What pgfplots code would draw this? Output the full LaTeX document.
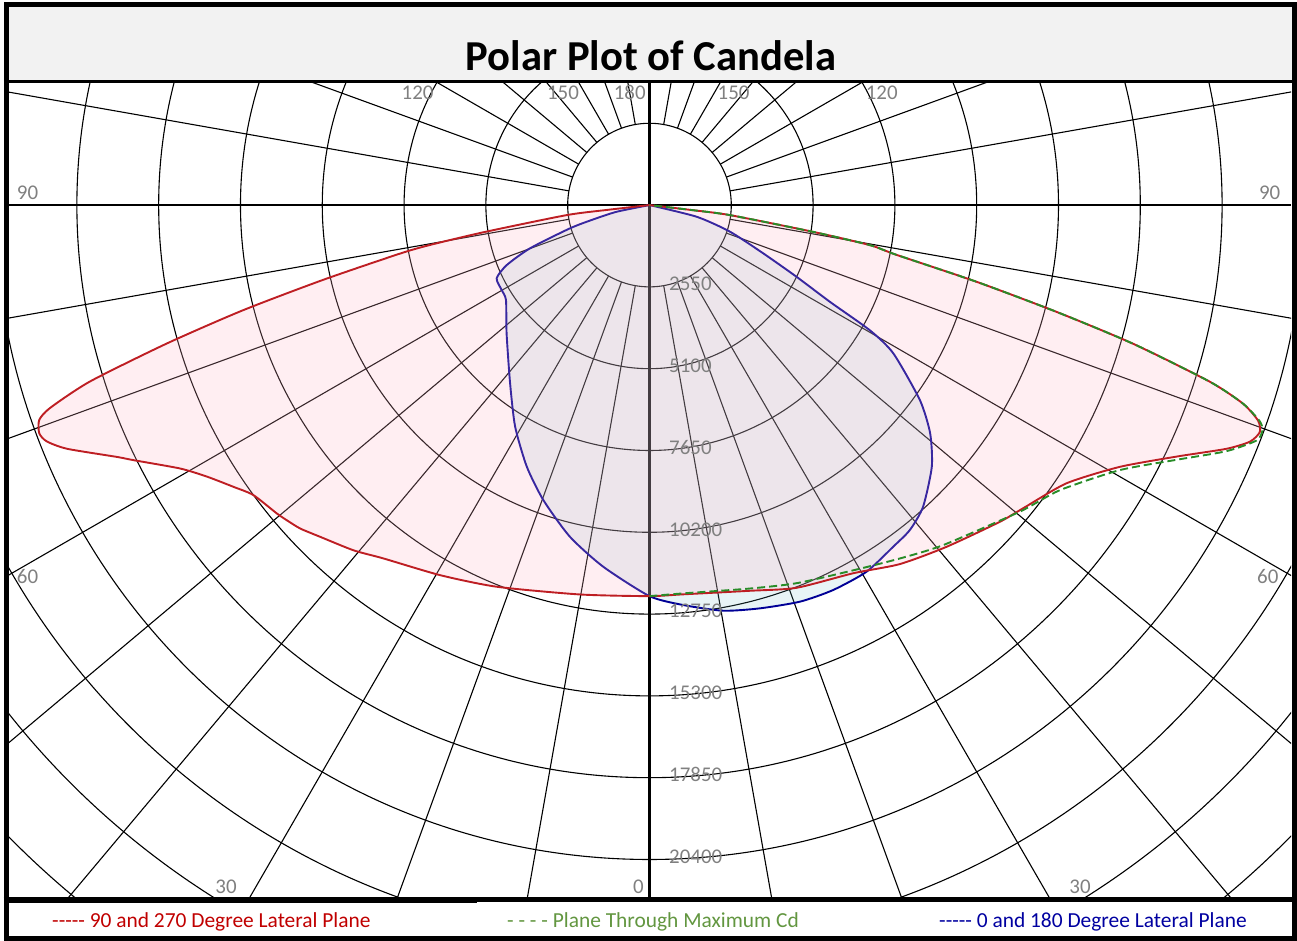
\documentclass[border=0pt]{standalone}
\usepackage{fontspec}
\setmainfont{Carlito}
\usepackage{pgfplots}
\pgfplotsset{compat=1.18}
\usepackage{pgfplotstable}

\definecolor{redline}{RGB}{190,30,35}
\definecolor{redfill}{RGB}{255,178,196}
\definecolor{blueline}{RGB}{0,0,150}
\definecolor{bluefill}{RGB}{102,182,195}
\definecolor{greenline}{RGB}{40,140,40}
\definecolor{labgray}{RGB}{128,128,128}
\definecolor{titlebg}{RGB}{242,242,242}
\definecolor{legred}{RGB}{192,0,0}
\definecolor{leggreen}{RGB}{98,150,64}
\definecolor{legblue}{RGB}{0,0,160}

% a = vertical angle from nadir (negative: 270 / 180 plane side, positive: 90 / 0 plane side), cd = candela
\pgfplotstableread{
a cd
-90 0
-83.5 1300
-83.1 2600
-80.7 5250
-79.7 6955
-79.0 7920
-77.1 10430
-75.5 13080
-74.0 15650
-72.5 18290
-71.3 19730
-70.6 20170
-69.5 20310
-68.6 20185
-67.3 19685
-64.7 18370
-63.7 17946
-60.7 16780
-58.5 16193
-55.9 15665
-53.8 15305
-50.4 15080
-49.0 14977
-47.2 14840
-44.8 14573
-40.6 14175
-37.0 13790
-29.5 13255
-21.8 12815
-10.1 12330
0 12190
5.0 12180
14.6 12425
21.0 12780
29.0 13120
34.9 13645
41.0 14115
47.9 14725
51.0 15005
56.3 15630
60.9 16780
64.5 18210
67.1 19525
68.5 20120
69.6 20300
70.5 20125
71.5 19513
72.5 18320
74.0 15685
75.3 13120
76.8 10475
78.6 7860
79.7 6985
80.7 5174
82.9 2530
83.3 1300
90 0
}\redtab

\pgfplotstableread{
a cd
0 12190
5.0 12150
14.5 12350
21.3 12650
29.5 13060
35.3 13500
40.8 14005
50.4 14990
55.2 15575
60.6 16830
64.2 18245
66.9 19553
68.8 20295
69.8 20360
70.5 20180
71.5 19513
72.5 18320
74.0 15685
75.3 13120
76.8 10475
78.6 7860
79.7 6985
80.7 5174
82.9 2530
83.3 1300
90 0
}\greentab

\pgfplotstableread{
a cd
-90 0
-78.5 1044
-75.7 1808
-73.7 2582
-70.1 3962
-67.2 4828
-64.4 5283
-60.1 5314
-56.5 5365
-48.1 5985
-38.0 7057
-31.2 8083
-25.1 9011
-19.8 9772
-13.5 10632
-7.3 11365
0 12190
4.8 12511
10.3 12853
15.3 13034
20.8 13224
25.5 13296
30.6 13283
35.5 13083
38.7 12981
42.2 12697
47.2 11996
50.9 11273
54.2 10394
58.7 8895
60.4 7900
61.8 6383
64.0 5104
67.0 3854
71.7 2644
76.1 1516
90 0
}\bluetab

\begin{document}
\begin{tikzpicture}[x=1bp,y=1bp]
\begin{axis}[name=ax, scale only axis,
  width=1283.2bp, height=814.8bp,
  xmin=-20000, xmax=20000, ymin=-21600, ymax=3800,
  axis line style={draw=none}, ticks=none, clip=true,
  every axis plot/.append style={smooth, tension=0.4, line join=round}]
% polar grid (rings every 2550 cd = 81.8bp, spokes every 10 degrees)
\pgfplotsinvokeforeach{1,...,11}{\draw[line width=1.1bp] (axis cs:0,0) circle[radius=#1*81.8bp];}
\pgfplotsinvokeforeach{10,20,...,80,100,110,...,170,190,200,...,260,280,290,...,350}{%
  \draw[line width=1.1bp] (axis cs:0,0) ++(#1:81.8bp) -- ++(#1:1250bp);}
\draw[line width=2.2bp] (axis cs:-20000,0) -- (axis cs:20000,0);
\draw[line width=2.6bp] (axis cs:0,-21600) -- (axis cs:0,3800);
% data
\addplot[data cs=polar, draw=blueline, line width=1.9bp, fill=bluefill, fill opacity=0.15]
  table[x expr=\thisrow{a}+270, y=cd]{\bluetab};
\addplot[data cs=polar, draw=redline, line width=1.9bp, fill=redfill, fill opacity=0.22]
  table[x expr=\thisrow{a}+270, y=cd]{\redtab};
\addplot[data cs=polar, draw=greenline, line width=1.9bp, dash pattern=on 8bp off 4bp]
  table[x expr=\thisrow{a}+270, y=cd]{\greentab};
\end{axis}

\begin{scope}[shift={(ax.south west)}, xshift=-7.9bp, yshift=-43bp]
\fill[titlebg] (6,858) rectangle (1292,936);

% labels
\begin{scope}[every node/.style={font=\fontsize{21}{25}\selectfont, text=labgray, inner sep=0pt}]
\foreach \k/\v in {1/2550,2/5100,3/7650,4/10200,5/12750,6/15300,7/17850,8/20400}
  \node[anchor=base west] at (669,{732-81.8*\k}) {\v};
\node[anchor=base] at (27.5,741) {90};
\node[anchor=base] at (1269.7,741) {90};
\node[anchor=base] at (417.6,841.7) {120};
\node[anchor=base] at (563,841.7) {150};
\node[anchor=base] at (629.7,841.7) {180};
\node[anchor=base] at (733.6,841.7) {150};
\node[anchor=base] at (881.7,841.7) {120};
\node[anchor=base] at (27.5,357) {60};
\node[anchor=base] at (1267.8,357) {60};
\node[anchor=base] at (226,47.7) {30};
\node[anchor=base] at (1080,47.7) {30};
\node[anchor=base] at (638.4,47.7) {0};
\end{scope}

% title
\node[anchor=base, font=\fontsize{42.8}{50}\selectfont\bfseries, inner sep=0pt] at (651,870) {Polar Plot of Candela};

% frame
\draw[line width=3bp] (4,859.5) -- (1293,859.5);
\draw[line width=4.5bp] (4,41.5) -- (1293,41.5);
\draw[line width=6bp] (4,40.5) -- (477,40.5);
\draw[line width=5bp] (6.5,2.5) rectangle (1294.5,936);

% legend
\begin{scope}[every node/.style={font=\fontsize{21.5}{25}\selectfont, inner sep=0pt, anchor=base west}]
\node[text=legred] at (52,13.5) {-{}-{}-{}-{}- 90 and 270 Degree Lateral Plane};
\node[text=leggreen] at (507,13.5) {- - - - Plane Through Maximum Cd};
\node[text=legblue] at (939,13.5) {-{}-{}-{}-{}- 0 and 180 Degree Lateral Plane};
\end{scope}

\pgfresetboundingbox
\path[use as bounding box] (0,0) rectangle (1297,941);
\end{scope}
\end{tikzpicture}
\end{document}
